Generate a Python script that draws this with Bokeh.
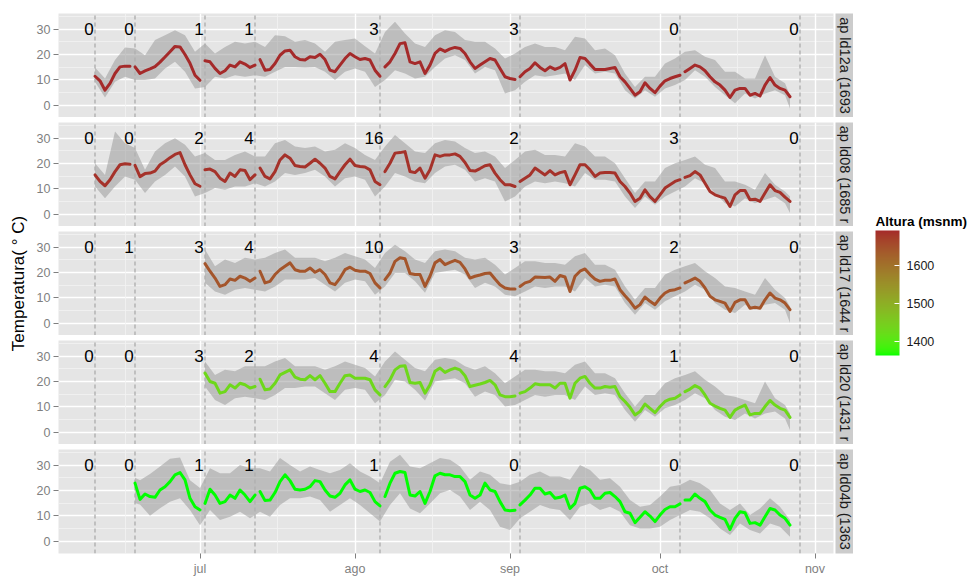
import numpy as np
from bokeh.plotting import figure
from bokeh.layouts import row, column
from bokeh.models import (ColumnDataSource, FixedTicker, Grid, LinearAxis, Range1d,
                          LinearColorMapper, ColorBar)
from bokeh.core.properties import value
from bokeh.transform import transform
from bokeh.embed import file_html
from bokeh.resources import INLINE

FONT = "Liberation Sans"
ORIGIN = np.datetime64("2013-07-01")

# ------------------------------------------------------------------ data
month_dates = ["2013-06-01", "2013-07-01", "2013-08-01", "2013-09-01",
               "2013-10-01", "2013-11-01", "2013-12-01"]
month_labels = ["jun", "jul", "ago", "sep", "oct", "nov", "dic"]
sampling_dates = ["2013-06-10", "2013-06-18", "2013-07-02", "2013-07-12",
                  "2013-08-06", "2013-09-03", "2013-10-05", "2013-10-29"]
logger_changes = ["2013-06-18", "2013-07-02", "2013-07-13", "2013-08-07",
                  "2013-09-03", "2013-10-06"]
last_date = "2013-10-27"

# strip labels as visible in the picture
traps = ["ap ld12a (1693", "ap ld08 (1685 r", "ap ld17 (1644 r",
         "ap ld20 (1431 r", "ap ld04b (1363"]
altitudes = [1693, 1685, 1644, 1431, 1363]
first_dates = ["2013-06-10", "2013-06-10", "2013-07-02", "2013-07-02", "2013-06-18"]
ribbon_first = ["2013-06-10", "2013-06-10", "2013-07-02", "2013-07-02", "2013-06-19"]

counts_ld12a = [0, 0, 1, 1, 3, 3, 0, 0]
counts_ld08 = [0, 0, 2, 4, 16, 2, 3, 0]
counts_ld17 = [0, 1, 3, 4, 10, 3, 2, 0]
counts_ld20 = [0, 0, 3, 2, 4, 4, 1, 0]
counts_ld04b = [0, 0, 1, 1, 1, 0, 0, 0]

# daily mean temperature
mean_ld12a = [11.4, 9.6, 5.9, 8.6, 12.5, 15.1, 15.4, 15.4, 15.1, 12.5,
              13.5, 14.3, 15.2, 17.0, 19.0, 21.1, 23.2, 23.0, 20.0, 16.5,
              11.8, 9.8, 17.5, 17.1, 14.5, 12.5, 13.6, 15.8, 15.1, 17.1,
              16.2, 14.9, 15.8, 18.0, 13.8, 14.1, 16.4, 19.7, 21.4, 21.7,
              19.1, 18.0, 17.8, 19.1, 18.8, 20.1, 18.0, 13.8, 13.2, 15.8,
              18.4, 20.4, 19.1, 18.0, 18.4, 17.8, 13.8, 11.4, 15.1, 17.1,
              20.4, 24.3, 24.6, 17.1, 16.4, 17.1, 12.5, 15.8, 20.4, 22.2,
              21.2, 22.2, 22.8, 22.4, 20.4, 17.1, 14.5, 15.8, 17.1, 18.4,
              17.8, 14.5, 11.2, 10.5, 10.1, 11.2, 13.2, 14.5, 16.7, 14.9,
              13.6, 15.1, 14.1, 14.9, 16.4, 9.9, 13.8, 18.8, 18.4, 16.2,
              14.1, 14.1, 14.1, 14.5, 14.9, 11.2, 9.2, 6.6, 3.9, 5.3,
              8.8, 6.6, 4.9, 7.5, 9.6, 10.5, 11.2, 11.8, 13.2, 14.5,
              15.8, 15.1, 13.6, 11.2, 9.2, 7.9, 5.9, 3.0, 5.9, 6.6,
              6.6, 3.9, 4.6, 3.6, 7.9, 10.9, 7.9, 6.6, 5.9, 3.3]
mean_ld08 = [15.5, 12.9, 11.2, 13.6, 16.8, 19.5, 19.9, 19.7, 19.3, 14.8,
             16.0, 16.2, 17.0, 19.5, 20.8, 22.3, 23.6, 24.3, 19.5, 15.5,
             12.0, 11.0, 17.5, 17.8, 16.8, 14.2, 12.9, 16.2, 14.9, 17.5,
             17.2, 13.6, 15.5, 18.2, 14.9, 13.9, 16.8, 21.4, 23.4, 22.1,
             19.2, 18.8, 18.6, 20.1, 21.7, 20.1, 18.2, 14.9, 13.9, 16.8,
             19.5, 21.7, 19.2, 18.8, 18.6, 17.5, 12.9, 11.6, 16.8, 20.1,
             24.1, 24.3, 24.7, 16.8, 16.4, 18.2, 14.2, 17.5, 23.4, 22.8,
             23.4, 23.4, 23.8, 22.8, 20.4, 17.2, 17.0, 18.0, 19.1, 19.5,
             16.2, 13.6, 11.6, 11.6, 10.9, 12.9, 14.2, 15.5, 18.2, 16.8,
             15.5, 17.2, 15.5, 16.4, 16.8, 11.6, 15.5, 19.5, 19.5, 17.5,
             14.9, 16.2, 16.4, 16.4, 16.2, 12.9, 10.9, 8.3, 5.0, 6.3,
             9.6, 6.9, 5.0, 7.6, 10.3, 11.6, 12.9, 13.6, 14.5, 15.2,
             16.8, 15.5, 12.2, 8.9, 7.6, 6.9, 6.3, 3.0, 7.6, 9.3,
             9.3, 5.7, 5.9, 5.0, 8.3, 11.6, 9.3, 8.6, 6.7, 5.0]
mean_ld17 = [23.5, 20.5, 17.8, 14.5, 15.2, 17.4, 16.9, 18.5, 17.8, 16.5,
             17.8, 20.5, 15.9, 16.5, 19.2, 21.1, 22.5, 23.8, 21.1, 20.5,
             20.5, 21.8, 20.1, 21.1, 19.2, 15.9, 15.2, 17.8, 21.1, 22.1,
             20.9, 20.5, 20.5, 19.6, 15.9, 13.9, 17.2, 19.8, 24.4, 25.8,
             25.4, 19.6, 19.2, 19.2, 14.5, 18.5, 23.8, 25.1, 23.1, 24.0,
             24.8, 24.0, 21.4, 17.8, 18.5, 19.0, 19.6, 19.8, 17.4, 15.2,
             13.9, 13.5, 13.5, 14.5, 15.9, 16.5, 18.2, 18.1, 18.0, 18.2,
             16.5, 18.8, 18.2, 12.5, 18.5, 20.5, 21.4, 19.2, 17.4, 16.5,
             16.9, 16.9, 17.4, 13.2, 10.8, 8.6, 5.9, 7.3, 10.3, 8.6,
             7.3, 9.9, 11.9, 12.9, 13.2, 13.9, 15.9, 16.8, 17.8, 16.5,
             13.9, 10.6, 9.2, 8.6, 7.9, 4.6, 8.2, 9.2, 9.2, 5.9,
             6.3, 5.9, 9.2, 11.9, 9.9, 9.2, 7.9, 5.3]
mean_ld20 = [23.3, 20.0, 19.3, 15.4, 16.0, 18.7, 17.4, 19.3, 18.7, 17.4,
             18.0, 20.9, 16.7, 17.0, 19.3, 22.6, 23.6, 24.6, 21.7, 20.9,
             20.7, 22.3, 20.7, 22.3, 19.3, 16.0, 16.0, 19.3, 22.3, 22.6,
             21.3, 21.3, 21.3, 20.7, 16.7, 14.7, 18.0, 20.7, 24.6, 26.0,
             26.2, 19.6, 19.3, 19.6, 15.4, 18.7, 24.0, 25.3, 23.6, 24.6,
             25.3, 24.6, 22.3, 18.0, 18.5, 19.0, 19.6, 20.4, 18.7, 14.7,
             14.0, 14.0, 14.3, 15.4, 16.0, 17.4, 19.1, 18.7, 18.7, 18.7,
             17.4, 19.3, 19.3, 13.4, 19.3, 21.3, 22.0, 19.3, 17.4, 17.4,
             18.0, 17.7, 18.0, 14.0, 12.1, 9.8, 6.8, 8.1, 11.1, 9.4,
             7.7, 10.1, 12.1, 13.0, 13.4, 14.7, 16.0, 17.0, 18.4, 17.4,
             14.7, 11.4, 10.3, 9.4, 8.7, 5.8, 8.7, 9.8, 10.7, 6.8,
             7.4, 7.4, 10.1, 12.5, 10.7, 9.4, 8.7, 5.8]
mean_ld04b = [22.9, 16.5, 18.6, 17.6, 17.3, 20.2, 21.5, 23.5, 26.2, 27.1,
              24.2, 16.9, 13.6, 12.3, 14.9, 20.5, 18.2, 14.9, 15.6, 18.2,
              16.9, 20.2, 18.2, 15.6, 18.2, 19.6, 16.0, 16.2, 19.2, 23.5,
              26.2, 23.9, 20.5, 20.2, 20.5, 21.5, 23.9, 23.5, 20.2, 17.8,
              17.3, 18.9, 22.2, 24.2, 20.5, 19.6, 20.2, 19.2, 15.6, 13.9,
              17.6, 22.9, 26.8, 27.5, 27.1, 18.2, 17.8, 19.6, 14.9, 19.6,
              25.8, 26.8, 26.2, 26.2, 25.5, 25.5, 23.5, 18.2, 16.9, 18.2,
              22.9, 20.2, 19.6, 15.6, 12.3, 12.0, 12.2, 14.3, 16.2, 18.2,
              20.9, 20.9, 18.6, 19.2, 16.9, 17.3, 18.2, 12.9, 14.9, 20.9,
              21.5, 20.2, 16.9, 16.9, 18.9, 19.2, 17.6, 15.6, 11.6, 11.0,
              7.3, 9.4, 11.6, 9.9, 7.7, 10.3, 12.5, 13.6, 13.6, 14.7,
              16.2, 16.2, 18.6, 16.9, 15.6, 12.3, 10.3, 9.4, 8.6, 4.6,
              9.0, 11.6, 11.2, 7.0, 7.3, 6.3, 9.6, 12.9, 12.3, 10.3,
              9.0, 6.3]

# min / max band (every second day)
hi_ld12a = [14.9, 10.5, 17.8, 22.8, 22.4, 19.7, 25.7, 27.6, 29.6, 27.6, 21.1,
            24.3, 20.4, 23.0, 25.0, 24.3, 25.0, 23.0, 27.6, 27.2, 25.0,
            25.7, 24.3, 21.1, 25.0, 25.7, 26.3, 23.3, 20.4, 28.9, 32.9,
            28.3, 24.3, 23.0, 27.6, 29.6, 28.9, 25.7, 25.0, 25.0, 22.4,
            18.4, 20.4, 23.0, 24.3, 23.0, 23.0, 21.7, 27.0, 26.3, 21.7,
            22.4, 19.7, 12.5, 7.2, 11.2, 11.2, 16.4, 18.4, 21.1, 21.7,
            19.1, 17.8, 13.2, 13.2, 10.5, 10.5, 19.7, 11.2, 8.6,
            3.9]
lo_ld12a = [9.2, 3.0, 9.2, 11.2, 9.9, 9.9, 10.5, 14.5, 17.1, 13.2, 6.6,
            7.2, 11.2, 10.5, 11.8, 11.2, 11.8, 11.2, 13.2, 15.1, 15.1,
            14.9, 15.1, 13.2, 9.9, 13.2, 14.5, 13.2, 7.2, 9.9, 13.8,
            12.5, 10.5, 11.2, 15.1, 18.4, 19.7, 17.8, 12.5, 15.1, 13.8,
            4.6, 5.9, 9.2, 11.8, 11.2, 11.8, 12.5, 9.9, 15.8, 12.5,
            13.2, 12.5, 5.9, 2.6, 5.9, 3.3, 6.6, 7.9, 9.9, 13.8,
            11.2, 7.2, 3.9, 0.7, 4.6, 2.6, 4.6, 5.9, 3.9,
            -1.3]
hi_ld08 = [20.1, 15.5, 32.6, 28.0, 26.1, 17.5, 24.7, 28.0, 30.0, 27.4, 22.8,
           24.1, 21.4, 21.4, 23.4, 24.7, 22.8, 22.8, 28.0, 29.3, 26.7,
           26.1, 26.7, 24.7, 25.4, 28.0, 26.1, 23.4, 21.4, 26.7, 31.3,
           28.0, 24.7, 24.1, 28.0, 29.3, 28.7, 26.1, 24.1, 24.7, 22.8,
           18.2, 21.4, 24.7, 25.4, 23.4, 23.4, 22.8, 28.0, 26.7, 22.8,
           22.8, 20.1, 14.2, 8.3, 12.9, 12.9, 18.2, 20.1, 21.4, 22.8,
           19.5, 18.2, 12.9, 12.9, 11.6, 9.6, 16.2, 11.6, 8.9,
           7.0]
lo_ld08 = [10.9, 6.3, 10.9, 14.9, 13.6, 8.3, 12.9, 15.5, 18.8, 14.9, 7.0,
           8.3, 10.3, 9.6, 10.9, 10.9, 12.2, 10.9, 12.9, 16.2, 15.5,
           16.2, 17.5, 14.9, 10.9, 14.2, 14.9, 13.6, 7.0, 10.9, 16.2,
           14.9, 12.9, 12.2, 16.2, 18.8, 19.5, 17.5, 12.9, 14.2, 12.9,
           5.0, 7.0, 10.9, 12.9, 12.2, 12.9, 12.2, 10.9, 16.2, 13.6,
           13.6, 12.9, 7.0, 2.4, 7.0, 3.7, 7.0, 8.9, 10.9, 14.2,
           12.2, 8.3, 4.3, 3.0, 6.3, 4.3, 5.7, 7.0, 4.3,
           0.4]
hi_ld17 = [29.1, 22.5, 25.1, 23.8, 25.8, 25.1, 25.8, 27.7, 29.1, 25.8,
           25.8, 25.8, 24.4, 25.8, 27.7, 26.4, 25.1, 21.8, 27.7, 31.0,
           28.4, 25.1, 23.8, 28.4, 29.1, 28.4, 25.8, 25.1, 25.8, 23.1,
           19.2, 21.8, 24.4, 24.4, 23.8, 23.8, 23.1, 26.4, 27.7, 23.1,
           23.1, 21.1, 14.5, 9.2, 13.9, 13.9, 19.2, 21.1, 22.5, 23.8,
           20.5, 17.8, 14.5, 13.9, 12.5, 11.2, 17.8, 13.2, 9.9,
           6.6]
lo_ld17 = [15.9, 12.5, 11.2, 13.2, 13.9, 13.2, 12.5, 14.5, 17.2, 17.2,
           17.2, 17.8, 15.2, 12.5, 15.9, 17.2, 16.5, 11.2, 14.5, 19.8,
           19.8, 16.5, 12.0, 19.8, 20.5, 21.1, 19.2, 13.9, 15.9, 14.5,
           11.2, 10.6, 12.5, 14.5, 13.9, 14.5, 14.5, 12.5, 17.8, 14.5,
           15.2, 14.5, 7.9, 3.3, 7.9, 5.3, 8.6, 10.6, 12.5, 15.2,
           13.2, 7.9, 5.3, 4.0, 7.3, 5.3, 7.3, 7.9, 5.3,
           0.0]
hi_ld20 = [27.9, 22.6, 24.6, 24.0, 26.0, 26.0, 26.0, 27.9, 29.3, 26.0,
           26.0, 26.0, 24.6, 26.0, 27.9, 26.6, 25.3, 22.0, 27.9, 31.9,
           28.6, 25.3, 24.0, 28.6, 29.3, 28.6, 26.0, 24.6, 26.0, 23.3,
           19.3, 22.0, 24.6, 24.6, 24.0, 24.0, 23.3, 26.6, 27.9, 23.3,
           23.3, 21.3, 15.4, 10.1, 14.7, 14.7, 19.3, 21.3, 22.6, 24.0,
           20.7, 18.0, 14.7, 14.0, 12.7, 11.4, 20.0, 13.4, 10.7,
           7.4]
lo_ld20 = [18.0, 12.7, 10.7, 13.4, 14.0, 13.4, 12.7, 14.7, 17.4, 17.4,
           18.0, 18.0, 15.4, 12.7, 16.7, 17.4, 16.7, 11.4, 14.7, 20.7,
           20.0, 16.7, 12.5, 20.0, 20.7, 21.3, 19.3, 14.0, 16.0, 14.7,
           10.1, 10.7, 12.7, 14.7, 14.0, 14.7, 14.7, 12.7, 18.0, 14.7,
           15.4, 14.7, 8.7, 4.1, 8.7, 6.1, 9.4, 10.7, 12.7, 15.4,
           13.4, 8.7, 6.1, 4.8, 7.4, 5.4, 7.4, 8.1, 5.4,
           0.8]
hi_ld04b = [25.0, 24.0, 26.5, 29.5, 32.5, 33.0, 24.0,
            21.0, 28.8, 26.8, 26.8, 30.1, 28.8, 28.8, 27.5, 32.8, 30.1,
            27.5, 29.5, 28.1, 26.8, 28.1, 30.8, 27.5, 25.5, 22.9, 31.4,
            34.1, 29.5, 28.8, 30.8, 32.8, 32.1, 29.5, 24.2, 27.5, 26.2,
            22.9, 22.2, 23.5, 26.2, 27.5, 25.5, 25.5, 24.2, 30.1, 28.1,
            24.2, 24.8, 21.5, 16.2, 13.6, 14.3, 17.6, 21.5, 22.2, 24.2,
            22.9, 20.2, 14.9, 12.3, 14.9, 10.3, 12.9, 16.9, 13.6, 8.3]
lo_ld04b = [15.0, 14.5, 10.0, 13.0, 15.6, 16.9, 12.3,
            6.3, 12.3, 8.3, 9.6, 11.6, 9.0, 11.6, 9.6, 14.3, 16.9,
            16.9, 17.6, 16.2, 11.6, 14.3, 16.9, 14.3, 11.0, 7.7, 14.3,
            18.9, 12.9, 11.0, 14.9, 18.9, 20.2, 17.6, 12.3, 15.6, 12.3,
            5.7, 4.4, 9.0, 11.6, 14.3, 12.9, 12.3, 8.3, 13.6, 14.9,
            12.3, 13.6, 11.6, 6.3, 5.0, 5.0, 5.7, 8.3, 10.3, 12.3,
            11.6, 9.0, 5.0, 2.4, 7.0, 4.4, 3.0, 7.0, 5.7, 1.7]

y_major = [0, 10, 20, 30]
y_minor = [5, 15, 25, 35]
legend_ticks = [1400, 1500, 1600]

means = [mean_ld12a, mean_ld08, mean_ld17, mean_ld20, mean_ld04b]
his = [hi_ld12a, hi_ld08, hi_ld17, hi_ld20, hi_ld04b]
los = [lo_ld12a, lo_ld08, lo_ld17, lo_ld20, lo_ld04b]
counts = [counts_ld12a, counts_ld08, counts_ld17, counts_ld20, counts_ld04b]


# ------------------------------------------------------------------ helpers
def day_of(d):
    return int((np.datetime64(d) - ORIGIN) / np.timedelta64(1, "D"))


def hex_to_lab(h):
    rgb = [int(h[i:i + 2], 16) / 255 for i in (1, 3, 5)]
    lin = [c / 12.92 if c <= 0.04045 else ((c + 0.055) / 1.055) ** 2.4 for c in rgb]
    r, g, b = lin
    X = (0.4124 * r + 0.3576 * g + 0.1805 * b) / 0.95047
    Y = 0.2126 * r + 0.7152 * g + 0.0722 * b
    Z = (0.0193 * r + 0.1192 * g + 0.9505 * b) / 1.08883
    f = lambda t: t ** (1 / 3) if t > (6 / 29) ** 3 else t / (3 * (6 / 29) ** 2) + 4 / 29
    fx, fy, fz = f(X), f(Y), f(Z)
    return (116 * fy - 16, 500 * (fx - fy), 200 * (fy - fz))


def lab_to_hex(L, a, b):
    fy = (L + 16) / 116
    fx, fz = fy + a / 500, fy - b / 200
    finv = lambda t: t ** 3 if t > 6 / 29 else 3 * (6 / 29) ** 2 * (t - 4 / 29)
    X, Y, Z = 0.95047 * finv(fx), finv(fy), 1.08883 * finv(fz)
    r = 3.2406 * X - 1.5372 * Y - 0.4986 * Z
    g = -0.9689 * X + 1.8758 * Y + 0.0415 * Z
    bb = 0.0557 * X - 0.2040 * Y + 1.0570 * Z

    def gam(c):
        c = min(1.0, max(0.0, c))
        return 12.92 * c if c <= 0.0031308 else 1.055 * c ** (1 / 2.4) - 0.055
    return "#%02x%02x%02x" % tuple(int(round(255 * gam(c))) for c in (r, g, bb))


low_lab, high_lab = hex_to_lab("#00FF00"), hex_to_lab("#A52A2A")
palette = [lab_to_hex(*[lo + (hi - lo) * k / 255 for lo, hi in zip(low_lab, high_lab)])
           for k in range(256)]
mapper = LinearColorMapper(palette=palette, low=min(altitudes), high=max(altitudes))

month_days = [day_of(d) for d in month_dates]
minor_days = [(a + b) / 2 for a, b in zip(month_days[:-1], month_days[1:])]
sample_days = [day_of(d) for d in sampling_dates]
breaks = [day_of(d) for d in logger_changes]
last_day = day_of(last_date)

XR = Range1d(-28.3, 126.7)
YR = Range1d(-4.9, 36.2)


def style_grid(g):
    g.grid_line_color = "white"
    g.grid_line_width = 1.4
    g.minor_grid_line_color = "#F3F3F3"
    g.minor_grid_line_width = 0.8


def style_axis(ax):
    ax.axis_line_color = None
    ax.major_tick_line_color = "#7F7F7F"
    ax.major_tick_out = 5
    ax.major_tick_in = 0
    ax.minor_tick_line_color = None
    ax.major_label_text_color = "#7F7F7F"
    ax.major_label_text_font = FONT
    ax.major_label_text_font_size = "12.5px"
    ax.major_label_standoff = 3


rows = []
n = len(traps)
for i in range(n):
    last = i == n - 1
    top = 13 if i == 0 else 5
    bottom = 23 if last else 0
    p = figure(x_range=XR, y_range=YR, frame_width=775, frame_height=104,
               x_axis_location=None, y_axis_location="left",
               toolbar_location=None, output_backend="svg",
               min_border_left=28, min_border_right=2, min_border_top=top,
               min_border_bottom=bottom,
               background_fill_color="#E5E5E5", border_fill_color="white",
               outline_line_color=None)
    p.xgrid.visible = False          # default grid of the hidden x axis
    yticker = FixedTicker(ticks=y_major, minor_ticks=y_minor)
    p.yaxis.ticker = yticker
    p.ygrid.ticker = yticker
    style_grid(p.ygrid[0])
    style_axis(p.yaxis[0])
    xticker = FixedTicker(ticks=month_days, minor_ticks=minor_days)
    xgrid = Grid(dimension=0, ticker=xticker)
    style_grid(xgrid)
    p.add_layout(xgrid)
    if last:
        xax = LinearAxis(ticker=xticker,
                         major_label_overrides={d: lab for d, lab in zip(month_days, month_labels)})
        style_axis(xax)
        p.add_layout(xax, "below")

    # band
    first = day_of(first_dates[i])
    rdays = []
    for d in [first] + list(range(day_of(ribbon_first[i]), last_day, 2)) + [last_day]:
        if d not in rdays:
            rdays.append(d)
    m = min(len(rdays), len(his[i]), len(los[i]))
    p.varea(x=rdays[:m], y1=los[i][:m], y2=his[i][:m],
            fill_color="#969696", fill_alpha=0.5)

    # sampling dates
    p.segment(x0=sample_days, x1=sample_days, y0=YR.start, y1=YR.end,
              line_color="#B0B0B0", line_width=1.4, line_dash="4 3")

    # mean line, split at logger changes
    ldays = np.arange(first, last_day + 1)
    vals = np.asarray(means[i], dtype=float)
    k = min(len(ldays), len(vals))
    ldays, vals = ldays[:k], vals[:k]
    seg = np.searchsorted(breaks, ldays, side="right")
    xs, ys = [], []
    for s_ in np.unique(seg):
        msk = seg == s_
        if msk.sum() > 1:
            xs.append(ldays[msk].tolist())
            ys.append(vals[msk].tolist())
    src = ColumnDataSource(dict(xs=xs, ys=ys, alt=[altitudes[i]] * len(xs)))
    p.multi_line(xs="xs", ys="ys", source=src, line_width=3,
                 line_color=transform("alt", mapper), line_join="round", line_cap="round")

    # counts
    p.text(x=sample_days, y=[30] * len(sample_days), text=[str(c) for c in counts[i]],
           text_font=value(FONT), text_font_size="17px", text_color="black",
           text_align="center", text_baseline="middle", x_offset=-6)

    # strip
    s = figure(x_range=Range1d(0, 1), y_range=Range1d(0, 1), frame_width=18, frame_height=104,
               x_axis_location=None, y_axis_location=None, toolbar_location=None,
               output_backend="svg", min_border_left=0, min_border_right=0,
               min_border_top=top, min_border_bottom=bottom,
               background_fill_color="#CCCCCC", border_fill_color="white",
               outline_line_color=None)
    s.grid.visible = False
    s.text(x=[0.5], y=[0.5], text=[traps[i]], angle=-np.pi / 2,
           text_font=value(FONT), text_font_size="14.5px", text_color="#1A1A1A",
           text_align="center", text_baseline="middle")
    rows.append(row(p, s))

# y-axis title, spanning all panels
yt = figure(x_range=Range1d(0, 1), y_range=Range1d(0, 1), frame_width=30, frame_height=540,
            x_axis_location=None, y_axis_location=None, toolbar_location=None,
            output_backend="svg", min_border_left=0, min_border_right=0,
            min_border_top=13, min_border_bottom=23, outline_line_color=None,
            background_fill_color="white", border_fill_color="white")
yt.grid.visible = False
yt.text(x=[0.6], y=[0.5], text=["Temperatura( \u00b0 C)"], angle=np.pi / 2,
        text_font=value(FONT), text_font_size="17px", text_color="black",
        text_align="center", text_baseline="middle")

# legend
leg = figure(title="Altura (msnm)", frame_width=95, frame_height=150,
             min_border_left=22, min_border_top=230,
             min_border_right=0, min_border_bottom=0, x_axis_location=None,
             y_axis_location=None, toolbar_location=None, output_backend="svg",
             outline_line_color=None, background_fill_color="white")
leg.grid.visible = False
leg.title.text_font = FONT
leg.title.text_font_size = "13.5px"
leg.title.text_font_style = "bold"
leg.title.text_color = "black"
leg.title.align = "left"
leg.title.offset = 0
leg.title.standoff = 3
leg.scatter(x=[], y=[])
cb = ColorBar(color_mapper=mapper, location="top_left", orientation="vertical",
              width=24, height=125, padding=0, margin=0,
              ticker=FixedTicker(ticks=legend_ticks), label_standoff=7,
              major_label_text_font=FONT, major_label_text_font_size="12.5px",
              major_label_text_color="#1A1A1A",
              major_tick_line_color="white", major_tick_in=5, major_tick_out=0,
              minor_tick_line_color=None, bar_line_color=None,
              border_line_color=None, background_fill_color=None)
leg.add_layout(cb)

layout = row(column(yt), column(*rows), column(leg))
open("out.html", "w").write(file_html(layout, INLINE))
